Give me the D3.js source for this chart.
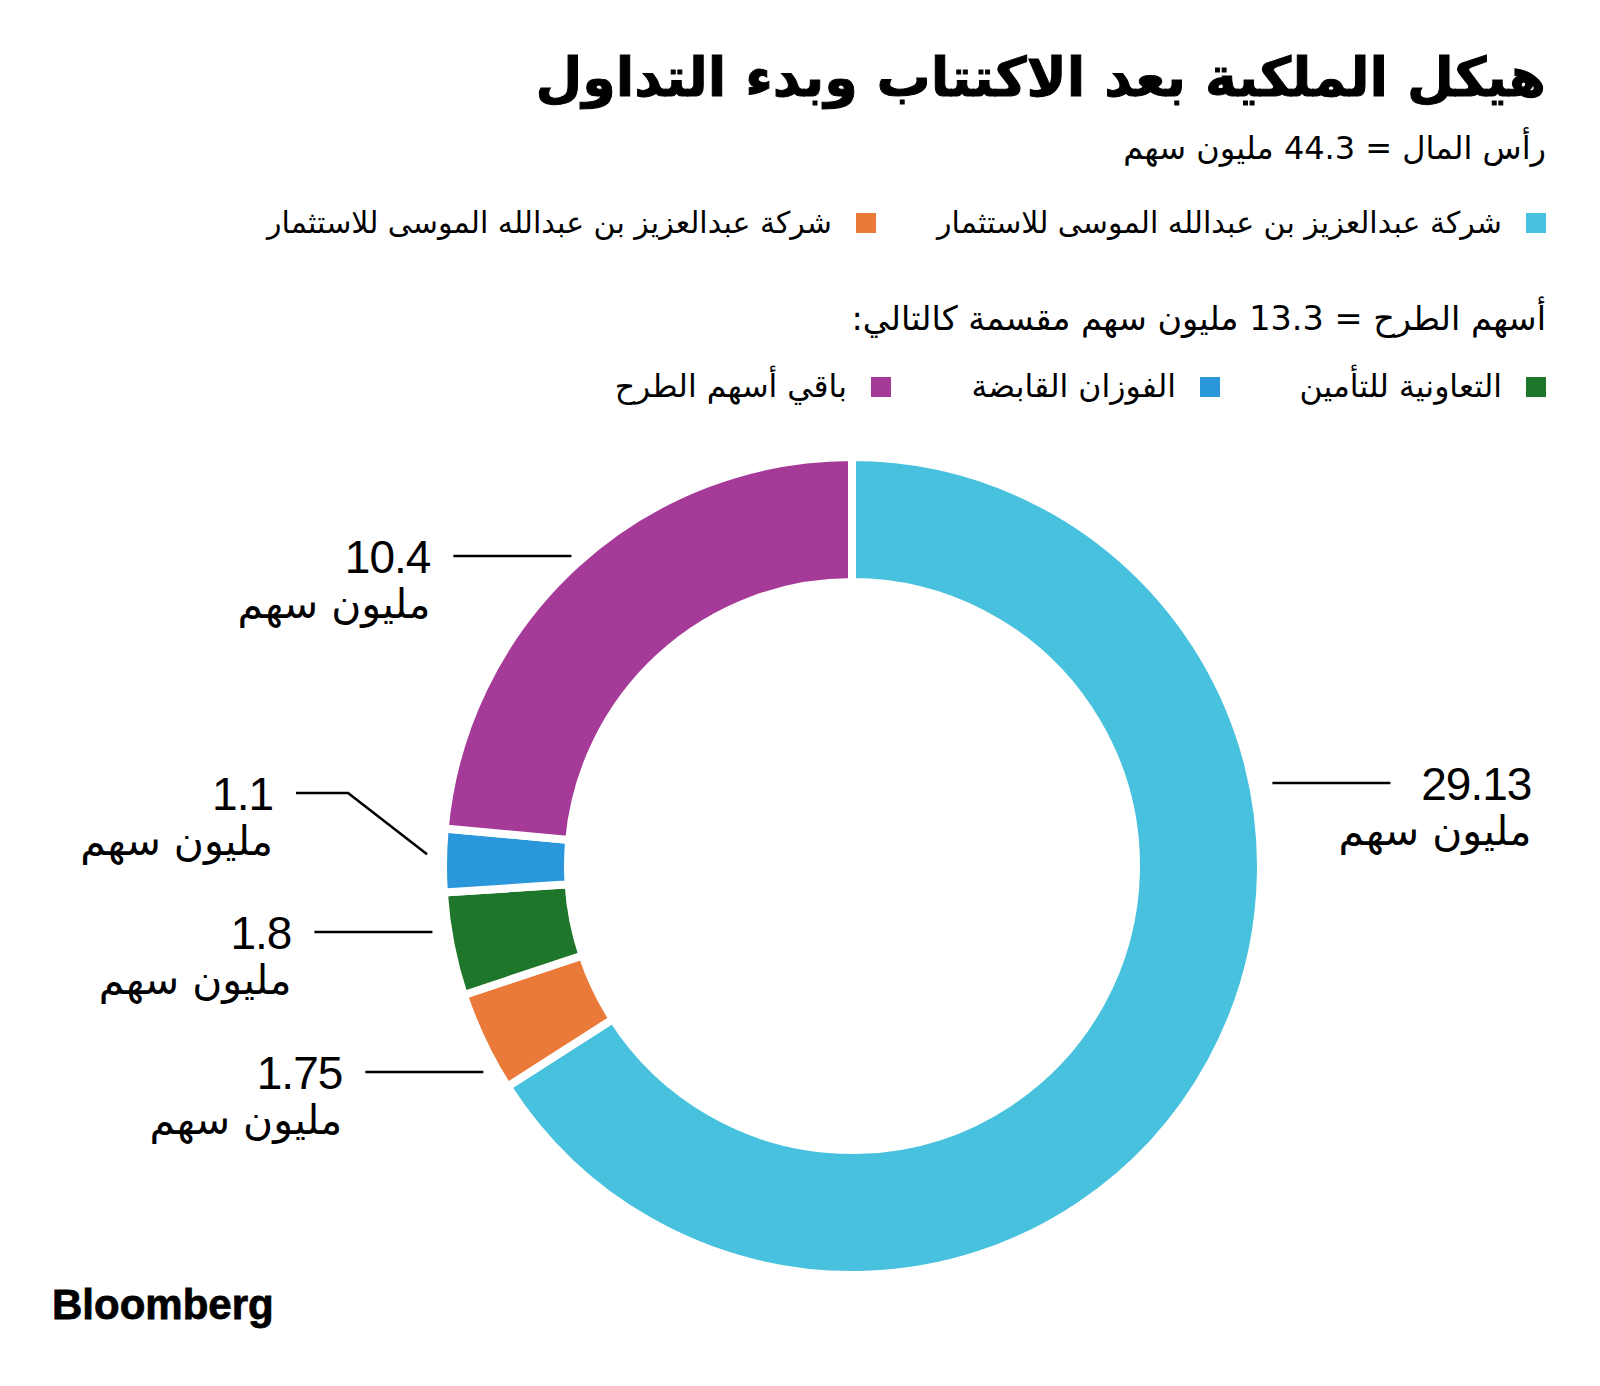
<!DOCTYPE html>
<html>
<head>
<meta charset="utf-8">
<script src="https://cdn.jsdelivr.net/npm/d3@7"></script>
<style>
  html, body { margin: 0; padding: 0; background: #fff; }
  svg { display: block; }
</style>
</head>
<body>
<svg id="chart" width="1600" height="1386"></svg>
<script>
// ---------- data ----------
const titleText = "هيكل الملكية بعد الاكتتاب وبدء التداول";
const subtitleText = "رأس المال = 44.3 مليون سهم";
const offerText = "أسهم الطرح = 13.3 مليون سهم مقسمة كالتالي:";
const unitText = "مليون سهم";
const sliceNames = [
  "شركة عبدالعزيز بن عبدالله الموسى للاستثمار",
  "شركة عبدالعزيز بن عبدالله الموسى للاستثمار",
  "التعاونية للتأمين",
  "الفوزان القابضة",
  "باقي أسهم الطرح"
];
const sliceValues = [29.13, 1.75, 1.8, 1.1, 10.4];
const sliceLabels = ["29.13", "1.75", "1.8", "1.1", "10.4"];
const sliceColors = ["#47C1DD", "#EA7A39", "#1D7629", "#2B97DB", "#A53A98"];
const legendRow1 = [0, 1];
const legendRow2 = [2, 3, 4];

// ---------- layout ----------
const W = 1600, H = 1386;
const cx = 852, cy = 866, rOuter = 409, rInner = 284;
const rightEdge = 1546;
const arFont = "'DejaVu Sans', sans-serif";
const numFont = "'Liberation Sans', Arial, sans-serif";
const labelLayout = [
  {y: 783, side: "right"},
  {y: 1072, side: "left"},
  {y: 932, side: "left"},
  {y: 793, side: "left", elbow: true},
  {y: 556, side: "left"}
];

const svg = d3.select("#chart");

// title
svg.append("text")
  .attr("x", rightEdge).attr("y", 96)
  .attr("direction", "rtl").attr("text-anchor", "start")
  .style("font-family", arFont).style("font-weight", "bold")
  .style("font-size", "54px").attr("fill", "#000")
  .attr("stroke", "#000").attr("stroke-width", 1)
  .text(titleText);

svg.append("text")
  .attr("x", rightEdge).attr("y", 159)
  .attr("direction", "rtl").attr("text-anchor", "start")
  .style("font-family", arFont).style("font-size", "32px").attr("fill", "#000")
  .text(subtitleText);

svg.append("text")
  .attr("x", rightEdge).attr("y", 330)
  .attr("direction", "rtl").attr("text-anchor", "start")
  .style("font-family", arFont).style("font-size", "33.5px").attr("fill", "#000")
  .text(offerText);

// legends
function legendRow(items, cols, y, fs) {
  items.forEach((idx, i) => {
    const xr = cols[i];
    svg.append("rect")
      .attr("x", xr - 20).attr("y", y - 10)
      .attr("width", 20).attr("height", 20)
      .attr("fill", sliceColors[idx]);
    svg.append("text")
      .attr("x", xr - 44).attr("y", y + 10)
      .attr("direction", "rtl").attr("text-anchor", "start")
      .style("font-family", arFont).style("font-size", fs).attr("fill", "#000")
      .text(sliceNames[idx]);
  });
}
legendRow(legendRow1, [1546, 876], 223, "30px");
legendRow(legendRow2, [1546, 1220, 891], 387, "31.5px");

// donut
const pie = d3.pie().sort(null).value(d => d)(sliceValues);
const arc = d3.arc().innerRadius(rInner).outerRadius(rOuter);
const g = svg.append("g").attr("transform", `translate(${cx},${cy})`);
g.selectAll("path").data(pie).join("path")
  .attr("d", arc)
  .attr("fill", (d, i) => sliceColors[i])
  .attr("stroke", "#fff")
  .attr("stroke-width", 8)
  .attr("stroke-linejoin", "miter");

// labels
const rEdge = rOuter - 4;
const gap = 20, lineLen = 118, textGap = 23;
pie.forEach((d, i) => {
  const L = labelLayout[i];
  const dy = L.y - cy;
  let pts;
  if (L.side === "right") {
    const ax = cx + Math.sqrt(rEdge * rEdge - dy * dy);
    const x0 = ax + gap + 4;
    pts = [[x0, L.y], [x0 + lineLen, L.y]];
    const tx = x0 + lineLen + textGap + 118;
    drawLabel(tx, L.y, i);
  } else if (L.elbow) {
    const mid = (d.startAngle + d.endAngle) / 2;
    const ex = cx + (rEdge + gap) * Math.sin(mid);
    const ey = cy - (rEdge + gap) * Math.cos(mid) - 6;
    const kx = ex - 79;
    pts = [[ex, ey], [kx, L.y], [kx - 52, L.y]];
    drawLabel(kx - 52 - textGap, L.y, i);
  } else {
    const ax = cx - Math.sqrt(rEdge * rEdge - dy * dy);
    const x1 = ax - gap;
    pts = [[x1, L.y], [x1 - lineLen, L.y]];
    drawLabel(x1 - lineLen - textGap, L.y, i);
  }
  svg.append("path")
    .attr("d", d3.line()(pts))
    .attr("fill", "none").attr("stroke", "#000").attr("stroke-width", 2.5);
});

function drawLabel(xr, y, i) {
  svg.append("text")
    .attr("x", xr).attr("y", y + 17)
    .attr("text-anchor", "end")
    .style("font-family", numFont).style("font-size", "46px")
    .style("letter-spacing", "-1px").attr("fill", "#000")
    .text(sliceLabels[i]);
  svg.append("text")
    .attr("x", xr).attr("y", y + 62)
    .attr("direction", "rtl").attr("text-anchor", "start")
    .style("font-family", arFont).style("font-size", "41px").attr("fill", "#000")
    .text(unitText);
}

// Bloomberg logo
svg.append("text")
  .attr("x", 52).attr("y", 1319)
  .style("font-family", numFont).style("font-weight", "bold")
  .style("font-size", "42px").style("letter-spacing", "0px")
  .attr("fill", "#000").attr("stroke", "#000").attr("stroke-width", 0.8)
  .text("Bloomberg");
</script>
</body>
</html>
